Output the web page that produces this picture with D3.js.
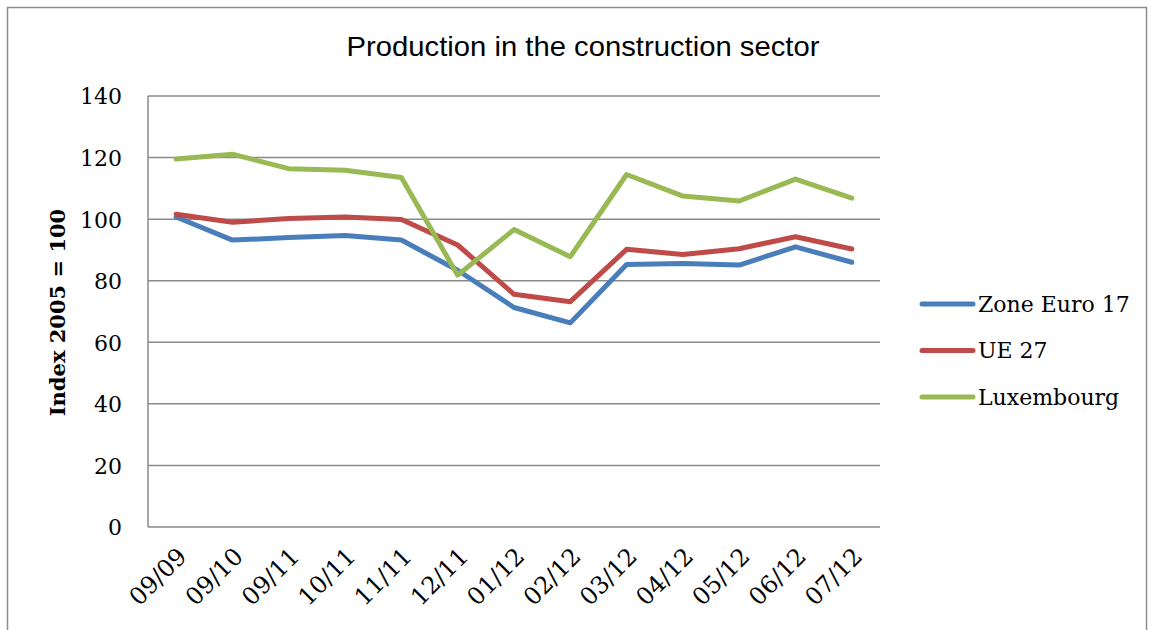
<!DOCTYPE html>
<html><head><meta charset="utf-8">
<script src="https://cdn.jsdelivr.net/npm/d3@7"></script>
<style>body{margin:0;background:#fff}svg{display:block}</style>
</head><body>
<svg id="c" width="1151" height="630"></svg>
<script>
const categories = ["09/09","09/10","09/11","10/11","11/11","12/11","01/12","02/12","03/12","04/12","05/12","06/12","07/12"];
const zoneEuro17 = [100.7, 93.2, 94.0, 94.7, 93.2, 83.4, 71.3, 66.3, 85.3, 85.6, 85.1, 91.0, 86.0];
const ue27 = [101.6, 99.0, 100.2, 100.7, 99.9, 91.6, 75.6, 73.2, 90.2, 88.5, 90.4, 94.3, 90.3];
const luxembourg = [119.5, 121.1, 116.4, 115.9, 113.5, 81.8, 96.6, 87.8, 114.5, 107.5, 105.9, 113.0, 106.8];
const yTicks = [0, 20, 40, 60, 80, 100, 120, 140];
const seriesNames = ["Zone Euro 17", "UE 27", "Luxembourg"];
const seriesColors = ["#4A7EBB", "#BE4B48", "#98B954"];
const seriesData = [zoneEuro17, ue27, luxembourg];

const svg = d3.select("#c");
const serif = "'DejaVu Serif', serif";
// outer border
svg.append("rect").attr("x", 7.5).attr("y", 7.5).attr("width", 1139).attr("height", 640)
  .attr("fill", "none").attr("stroke", "#8c8c8c").attr("stroke-width", 1.5);

const L = 148, R = 880, T = 96, B = 527;
const x = d3.scaleBand().domain(categories).range([L, R]);
const y = d3.scaleLinear().domain([0, 140]).range([B, T]);

// gridlines
svg.append("g").selectAll("line").data(yTicks).join("line")
  .attr("x1", L).attr("x2", R).attr("y1", d => y(d)).attr("y2", d => y(d))
  .attr("stroke", "#8a8a8a").attr("stroke-width", 1.5);
// left axis line
svg.append("line").attr("x1", L).attr("x2", L).attr("y1", T).attr("y2", B)
  .attr("stroke", "#8a8a8a").attr("stroke-width", 1.5);

// y axis
const yAxis = d3.axisLeft(y).tickValues(yTicks).tickSize(0).tickPadding(26);
const gy = svg.append("g").attr("transform", `translate(${L},0)`).call(yAxis);
gy.select(".domain").remove();
gy.selectAll("text").attr("font-family", serif).attr("font-size", 22).attr("fill", "#000").attr("dy", "0.36em");

// x axis labels
const gx = svg.append("g");
gx.selectAll("text").data(categories).join("text")
  .attr("transform", d => `translate(${x(d) + x.bandwidth()/2 + 12},${B + 31}) rotate(-45)`)
  .attr("text-anchor", "end")
  .attr("font-family", serif).attr("font-size", 24).attr("fill", "#000")
  .text(d => d);

// y title
svg.append("text").attr("transform", `translate(65,${(T+B)/2 + 1}) rotate(-90)`)
  .attr("text-anchor", "middle").attr("font-family", serif).attr("font-weight", "bold")
  .attr("font-size", 21).text("Index 2005 = 100");

// title
svg.append("text").attr("x", 583).attr("y", 56).attr("text-anchor", "middle")
  .attr("font-family", "'Liberation Sans', Arial, sans-serif").attr("font-size", 28)
  .attr("textLength", 473).attr("lengthAdjust", "spacingAndGlyphs")
  .text("Production in the construction sector");

// lines
const line = d3.line().x((d, i) => x(categories[i]) + x.bandwidth()/2).y(d => y(d));
seriesData.forEach((s, k) => {
  svg.append("path").datum(s).attr("d", line).attr("fill", "none")
    .attr("stroke", seriesColors[k]).attr("stroke-width", 5)
    .attr("stroke-linejoin", "round").attr("stroke-linecap", "round");
});

// legend
const lg = svg.append("g");
seriesNames.forEach((n, k) => {
  const yy = 304 + k * 46.5;
  lg.append("line").attr("x1", 922).attr("x2", 973).attr("y1", yy).attr("y2", yy)
    .attr("stroke", seriesColors[k]).attr("stroke-width", 5).attr("stroke-linecap", "round");
  lg.append("text").attr("x", 978).attr("y", yy).attr("dy", "0.36em")
    .attr("font-family", serif).attr("font-size", 22).text(n);
});
</script>
</body></html>
